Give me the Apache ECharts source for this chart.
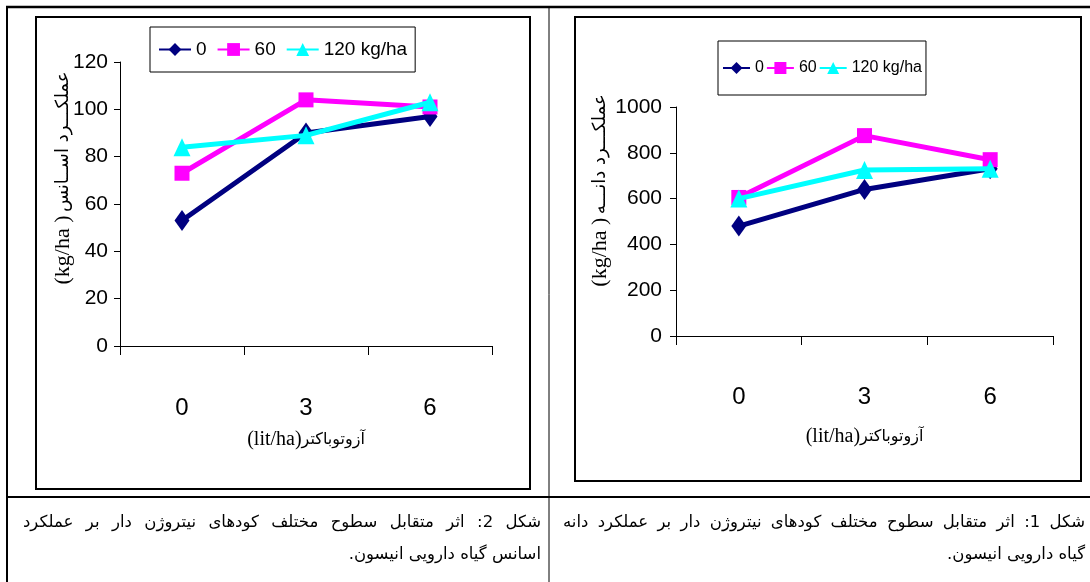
<!DOCTYPE html>
<html dir="ltr"><head><meta charset="utf-8">
<script src="https://cdn.jsdelivr.net/npm/echarts@6/dist/echarts.min.js"></script>
<style>
html,body{margin:0;padding:0;background:#fff;width:1090px;height:582px;overflow:hidden;}
#c{position:absolute;left:0;top:0;width:1090px;height:582px;}
.cap{position:absolute;font-family:'DejaVu Sans',sans-serif;font-size:16.5px;line-height:22px;color:#000;height:22px;white-space:nowrap;}
.j{text-align:justify;text-align-last:justify;white-space:normal;}
.r{text-align:right;}
</style>
</head><body>
<div id="c"></div>
<div id="capL1" class="cap j" dir="rtl" style="left:23px;top:511px;width:518px;"></div>
<div id="capL2" class="cap r" dir="rtl" style="left:23px;top:543px;width:518px;"></div>
<div id="capR1" class="cap j" dir="rtl" style="left:563px;top:511px;width:522px;"></div>
<div id="capR2" class="cap r" dir="rtl" style="left:563px;top:543px;width:522px;"></div>
<script>
// ---- data ----
const categories = ['0', '3', '6'];
const seriesNames = ['0', '60', '120 kg/ha'];
// left chart (Fig. 2): essential oil yield (kg/ha)
const oilN0 = [53, 90, 97];
const oilN60 = [73, 104, 101];
const oilN120 = [84, 89, 103];
// right chart (Fig. 1): grain yield (kg/ha)
const grainN0 = [480, 640, 730];
const grainN60 = [605, 875, 770];
const grainN120 = [600, 725, 730];
const oilAxis = {min: 0, max: 120, interval: 20};
const grainAxis = {min: 0, max: 1000, interval: 200};
const xName = ['(lit/ha)', 'آزوتوباکتر'];
const oilYName = ['(kg/ha )', 'عملکـــرد اســانس'];
const grainYName = ['(kg/ha )', 'عملکـــرد دانـــه'];
const capLeft = ['شکل 2: اثر متقابل سطوح مختلف کودهای نیتروژن دار بر عملکرد', 'اسانس گیاه دارویی انیسون.'];
const capRight = ['شکل 1: اثر متقابل سطوح مختلف کودهای نیتروژن دار بر عملکرد دانه', 'گیاه دارویی انیسون.'];

document.getElementById('capL1').textContent = capLeft[0];
document.getElementById('capL2').textContent = capLeft[1];
document.getElementById('capR1').textContent = capRight[0];
document.getElementById('capR2').textContent = capRight[1];

const NUMF = "'Liberation Sans','Arimo',sans-serif";
const colors = ['#000080', '#FF00FF', '#00FFFF'];
const symbols = ['diamond', 'rect', 'triangle'];
const sizes = [[15, 21], [15, 15], [17, 18]];

function mk(i, data, ai) {
  return {
    type: 'line', name: seriesNames[i], data: data,
    xAxisIndex: ai, yAxisIndex: ai,
    symbol: symbols[i], symbolSize: sizes[i], showAllSymbol: true,
    lineStyle: {width: 5, color: colors[i]},
    itemStyle: {color: colors[i]},
    z: 2 + i, animation: false
  };
}

function xAxis(gi, margin, gap) {
  return {
    type: 'category', gridIndex: gi, data: categories, boundaryGap: true,
    axisLine: {lineStyle: {color: '#000', width: 1}},
    axisTick: {show: true, length: 9, lineStyle: {color: '#000', width: 1}},
    axisLabel: {margin: margin, fontSize: 24, fontFamily: NUMF, color: '#000'},
    name: '{a|' + xName[0] + '}{b|' + xName[1] + '}',
    nameLocation: 'middle', nameGap: gap, nameMoveOverlap: false,
    nameTextStyle: {color: '#000', rich: {
      a: {fontFamily: "'Liberation Serif',serif", fontSize: 20, color: '#000'},
      b: {fontFamily: "'DejaVu Sans',sans-serif", fontSize: 16, color: '#000'}
    }},
    splitLine: {show: false}
  };
}
function yAxis(gi, ax, nm, gap, shift, margin) {
  return {
    type: 'value', gridIndex: gi, min: ax.min, max: ax.max, interval: ax.interval,
    axisLine: {show: true, lineStyle: {color: '#000', width: 1}},
    axisTick: {show: true, length: 6, lineStyle: {color: '#000'}},
    axisLabel: {margin: margin, fontSize: 21, fontFamily: NUMF, color: '#000',
                formatter: v => String(v)},
    splitLine: {show: false},
    name: '{a|' + nm[0] + '} {b|' + nm[1] + '}',
    nameLocation: 'middle', nameRotate: 90, nameGap: gap, nameMoveOverlap: false,
    nameTextStyle: {color: '#000', padding: [0, 0, 0, shift], rich: {
      a: {fontFamily: "'Liberation Serif',serif", fontSize: 22, color: '#000'},
      b: {fontFamily: "'DejaVu Sans',sans-serif", fontSize: 18, color: '#000'}
    }}
  };
}

const chart = echarts.init(document.getElementById('c'), null, {renderer: 'canvas'});
chart.setOption({
  animation: false,
  backgroundColor: '#fff',
  grid: [
    {left: 120, top: 62, width: 372, height: 284},
    {left: 676, top: 107, width: 377, height: 229}
  ],
  xAxis: [xAxis(0, 50, 84), xAxis(1, 49, 91)],
  yAxis: [yAxis(0, oilAxis, oilYName, 46, 52, 12), yAxis(1, grainAxis, grainYName, 65, 62, 14)],
  legend: [
    {left: 150, top: 27, data: seriesNames, orient: 'horizontal',
     itemWidth: 32, itemHeight: 16, itemGap: 10,
     borderColor: '#000', borderWidth: 1, padding: [13, 8, 13, 8],
     textStyle: {fontSize: 19, fontFamily: NUMF, color: '#000'}},
    {left: 718, top: 41, data: seriesNames, orient: 'horizontal',
     itemWidth: 27, itemHeight: 15, itemGap: 2,
     borderColor: '#000', borderWidth: 1, padding: [19, 4, 19, 4],
     textStyle: {fontSize: 16, fontFamily: NUMF, color: '#000'}}
  ],
  series: [
    mk(0, oilN0, 0), mk(1, oilN60, 0), mk(2, oilN120, 0),
    mk(0, grainN0, 1), mk(1, grainN60, 1), mk(2, grainN120, 1)
  ],
  graphic: [
    {type: 'line', shape: {x1: 6, y1: 7, x2: 1090, y2: 7}, style: {stroke: '#000', lineWidth: 2.5}},
    {type: 'line', shape: {x1: 7, y1: 6, x2: 7, y2: 582}, style: {stroke: '#000', lineWidth: 2}},
    {type: 'line', shape: {x1: 549, y1: 7, x2: 549, y2: 582}, style: {stroke: '#000', lineWidth: 1}},
    {type: 'line', shape: {x1: 6, y1: 497, x2: 1090, y2: 497}, style: {stroke: '#000', lineWidth: 2}},
    {type: 'rect', shape: {x: 36, y: 17, width: 494, height: 472}, style: {fill: 'none', stroke: '#000', lineWidth: 2}},
    {type: 'rect', shape: {x: 575, y: 17, width: 506, height: 464}, style: {fill: 'none', stroke: '#000', lineWidth: 2}}
  ]
});
</script>
</body></html>
